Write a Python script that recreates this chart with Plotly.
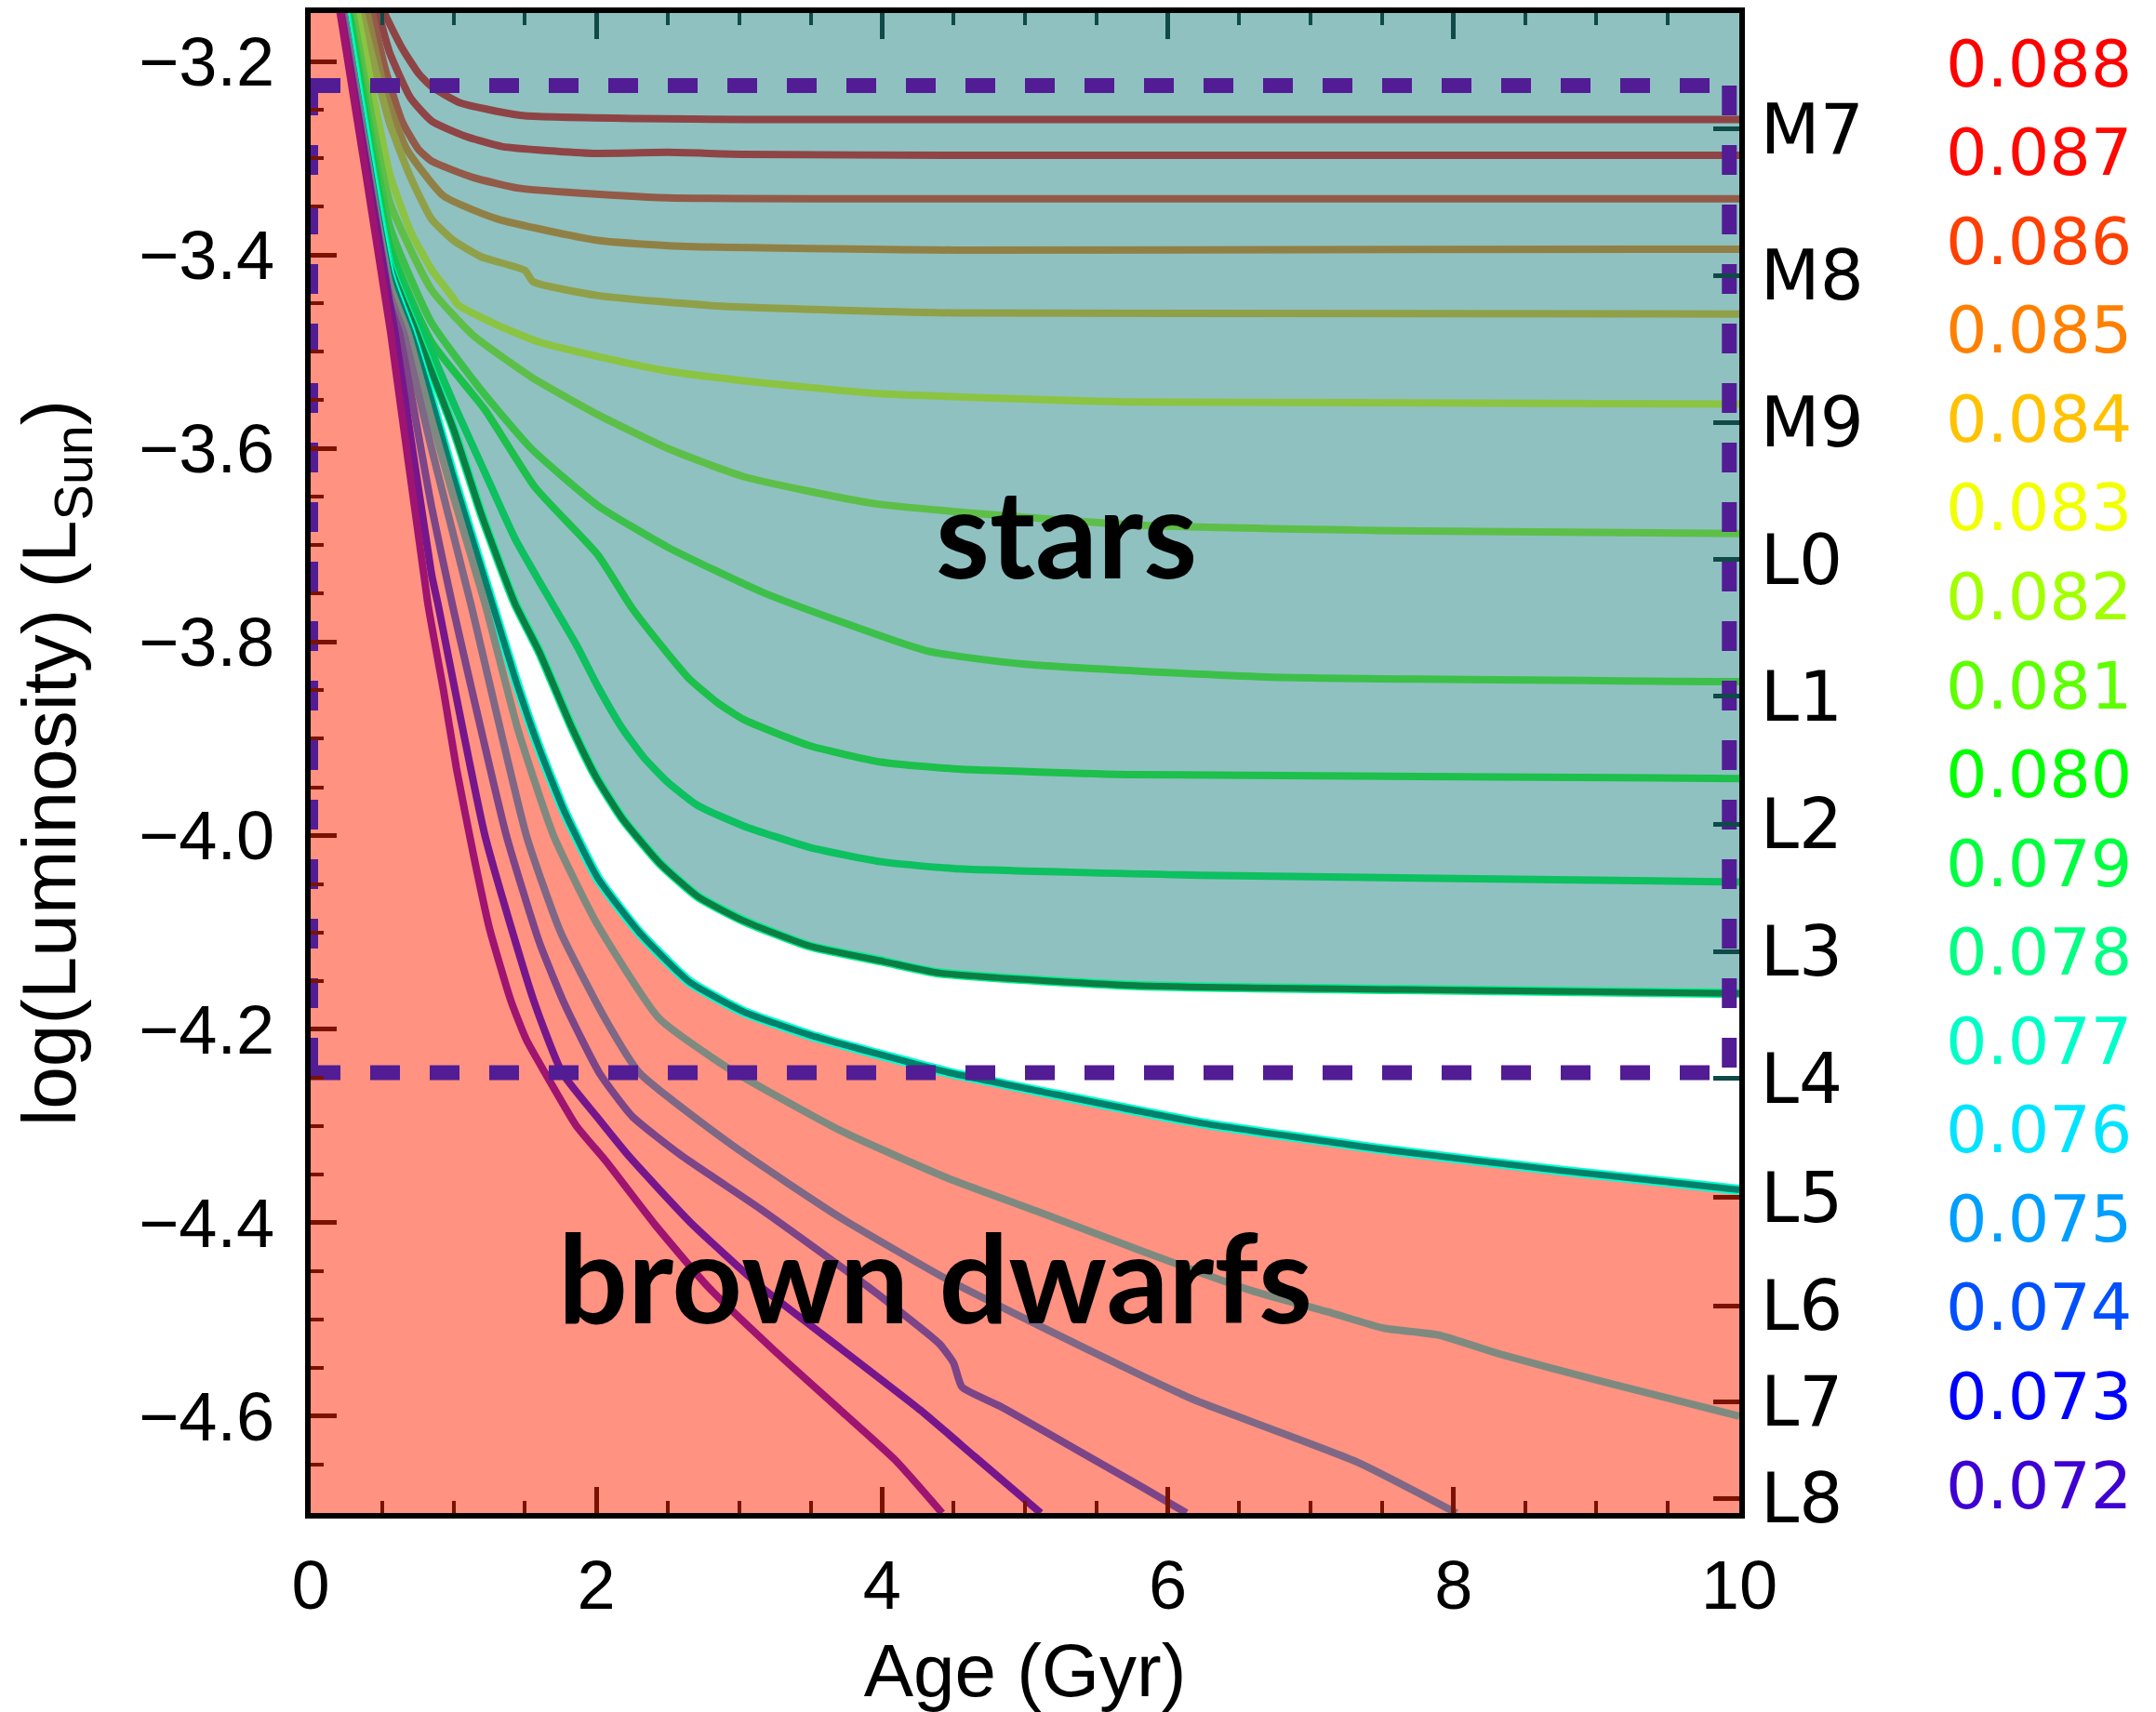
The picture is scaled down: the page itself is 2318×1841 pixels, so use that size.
import plotly.graph_objects as go

# ---------------- data ----------------
masses = [0.088, 0.087, 0.086, 0.085, 0.084, 0.083, 0.082, 0.081, 0.080,
          0.079, 0.078, 0.077, 0.076, 0.075, 0.074, 0.073, 0.072]
label_colors = ["#FF0000", "#FF0800", "#FF4000", "#FF8000", "#FFC200", "#F2FF00",
                "#A2FF00", "#5EFF00", "#00FF00", "#00FF40", "#00FF82", "#00FFC8",
                "#00E4FF", "#009EFF", "#0050FF", "#0000FF", "#3E00D2"]
line_colors = ["#8E4444", "#8F4446", "#935A48", "#918045", "#8FA048", "#8BC443",
               "#5DBF48", "#3DC04A", "#1CC04A", "#0DC060", "#0B7D45", "#00806A",
               "#7E8A80", "#7E6886", "#7B4588", "#76168C", "#9E1470"]

age_088 = [0.47, 0.526, 0.643, 0.758, 0.846, 1.05, 1.485, 2.30, 3.03, 4.53, 10.0]
lum_088 = [-3.135, -3.153, -3.187, -3.213, -3.226, -3.243, -3.256, -3.259, -3.260, -3.260, -3.260]

age_087 = [0.43, 0.48, 0.553, 0.70, 0.85, 1.078, 1.34, 1.98, 2.50, 3.03, 4.53, 10.0]
lum_087 = [-3.13, -3.153, -3.191, -3.238, -3.262, -3.277, -3.288, -3.295, -3.294, -3.296, -3.297, -3.297]

age_086 = [0.39, 0.436, 0.526, 0.64, 0.75, 0.846, 1.137, 1.456, 1.776, 2.50, 4.53, 10.0]
lum_086 = [-3.12, -3.153, -3.21, -3.262, -3.29, -3.303, -3.320, -3.331, -3.335, -3.341, -3.342, -3.342]

age_085 = [0.35, 0.40, 0.526, 0.67, 0.93, 1.31, 2.01, 2.59, 4.53, 10.0]
lum_085 = [-3.12, -3.153, -3.234, -3.290, -3.339, -3.363, -3.385, -3.391, -3.395, -3.394]

age_084 = [0.31, 0.36, 0.553, 0.70, 0.846, 1.0, 1.195, 1.50, 1.556, 2.01, 2.88, 4.53, 10.0]
lum_084 = [-3.12, -3.153, -3.264, -3.32, -3.363, -3.385, -3.402, -3.416, -3.4275, -3.442, -3.453, -3.460, -3.461]

age_083 = [0.28, 0.33, 0.553, 0.70, 0.846, 0.99, 1.035, 1.3, 1.6, 2.01, 2.50, 3.03, 3.95, 5.77, 10.0]
lum_083 = [-3.12, -3.153, -3.316, -3.376, -3.415, -3.443, -3.452, -3.472, -3.49, -3.505, -3.52, -3.530, -3.543, -3.552, -3.554]

age_082 = [0.25, 0.30, 0.553, 0.846, 1.137, 1.543, 2.01, 2.50, 3.03, 3.95, 5.77, 7.60, 10.0]
lum_082 = [-3.11, -3.153, -3.345, -3.436, -3.483, -3.526, -3.565, -3.60, -3.629, -3.657, -3.679, -3.685, -3.688]

age_081 = [0.23, 0.28, 0.553, 0.846, 1.195, 1.543, 2.01, 2.50, 3.17, 4.31, 5.0, 6.69, 10.0]
lum_081 = [-3.11, -3.153, -3.37, -3.47, -3.54, -3.60, -3.659, -3.702, -3.749, -3.809, -3.823, -3.836, -3.841]

age_080 = [0.22, 0.27, 0.553, 0.846, 1.22, 1.57, 2.01, 2.25, 2.50, 2.65, 2.85, 3.03, 3.49, 3.99, 4.50, 5.77, 10.0]
lum_080 = [-3.11, -3.153, -3.39, -3.49, -3.56, -3.64, -3.71, -3.765, -3.812, -3.838, -3.863, -3.880, -3.907, -3.924, -3.931, -3.937, -3.941]

age_079 = [0.21, 0.26, 0.553, 0.846, 1.02, 1.22, 1.43, 1.69, 1.86, 2.01, 2.18, 2.33, 2.50, 2.71, 3.03, 3.49, 3.99, 4.50, 6.23, 10.0]
lum_079 = [-3.11, -3.153, -3.40, -3.50, -3.56, -3.625, -3.693, -3.76, -3.803, -3.846, -3.889, -3.919, -3.945, -3.969, -3.990, -4.012, -4.027, -4.034, -4.041, -4.048]

age_078 = [0.20, 0.25, 0.553, 0.74, 1.0, 1.20, 1.43, 1.60, 1.83, 2.00, 2.18, 2.44, 2.71, 3.03, 3.49, 4.01, 4.40, 5.77, 7.60, 10.0]
lum_078 = [-3.11, -3.153, -3.41, -3.48, -3.58, -3.67, -3.76, -3.810, -3.889, -3.940, -3.982, -4.028, -4.063, -4.088, -4.114, -4.130, -4.142, -4.155, -4.159, -4.163]

age_077 = [0.19, 0.24, 0.553, 0.70, 0.846, 1.0, 1.27, 1.43, 1.60, 1.776, 2.01, 2.30, 2.65, 3.03, 3.49, 4.08, 4.47, 5.13, 6.23, 7.60, 8.74, 10.0]
lum_077 = [-3.11, -3.153, -3.42, -3.48, -3.55, -3.63, -3.76, -3.837, -3.91, -3.975, -4.044, -4.10, -4.151, -4.182, -4.206, -4.230, -4.245, -4.265, -4.297, -4.326, -4.346, -4.366]

age_076 = [0.18, 0.235, 0.553, 0.68, 0.846, 1.0, 1.22, 1.45, 1.70, 2.0, 2.44, 2.93, 3.71, 4.46, 5.08, 5.83, 6.58, 7.14, 7.51, 7.89, 8.33, 9.01, 10.0]
lum_076 = [-3.11, -3.153, -3.43, -3.48, -3.57, -3.65, -3.76, -3.89, -4.00, -4.09, -4.189, -4.241, -4.305, -4.354, -4.388, -4.430, -4.470, -4.493, -4.509, -4.516, -4.536, -4.563, -4.600]

age_075 = [0.175, 0.23, 0.553, 0.65, 0.846, 1.12, 1.51, 1.75, 2.06, 2.30, 2.96, 3.71, 4.46, 5.08, 5.83, 6.20, 7.32, 8.02]
lum_075 = [-3.11, -3.153, -3.44, -3.48, -3.60, -3.76, -4.00, -4.10, -4.189, -4.245, -4.321, -4.395, -4.459, -4.505, -4.559, -4.584, -4.647, -4.70]

age_074 = [0.17, 0.22, 0.553, 0.62, 0.846, 0.99, 1.37, 1.60, 1.78, 2.02, 2.25, 2.59, 3.15, 3.90, 4.40, 4.50, 4.56, 4.83, 5.39, 5.83, 6.13]
lum_074 = [-3.11, -3.153, -3.45, -3.48, -3.66, -3.76, -4.00, -4.11, -4.175, -4.245, -4.29, -4.33, -4.386, -4.466, -4.525, -4.545, -4.570, -4.590, -4.637, -4.674, -4.70]

age_073 = [0.165, 0.215, 0.553, 0.59, 0.846, 0.89, 1.22, 1.56, 1.76, 2.0, 2.22, 2.66, 3.15, 3.71, 4.27, 4.65, 5.11]
lum_073 = [-3.11, -3.153, -3.45, -3.48, -3.73, -3.76, -4.00, -4.17, -4.245, -4.29, -4.33, -4.40, -4.466, -4.530, -4.594, -4.642, -4.70]

age_072 = [0.16, 0.21, 0.56, 0.82, 0.93, 1.02, 1.14, 1.25, 1.40, 1.51, 1.64, 1.86, 2.07, 2.41, 2.78, 3.23, 3.71, 4.09, 4.42]
lum_072 = [-3.11, -3.153, -3.48, -3.76, -3.85, -3.93, -4.02, -4.095, -4.17, -4.211, -4.245, -4.30, -4.337, -4.402, -4.466, -4.530, -4.594, -4.645, -4.70]

spt_labels = ["M7", "M8", "M9", "L0", "L1", "L2", "L3", "L4", "L5", "L6", "L7", "L8"]
spt_lum = [-3.270, -3.421, -3.573, -3.715, -3.856, -3.988, -4.120, -4.251, -4.374, -4.486, -4.585, -4.685]

box_age = [0.0, 9.93]
box_lum = [-3.225, -4.245]

x_range = [0, 10]
y_range = [-4.70, -3.15]

curve_ages = [age_088, age_087, age_086, age_085, age_084, age_083, age_082, age_081, age_080,
              age_079, age_078, age_077, age_076, age_075, age_074, age_073, age_072]
curve_lums = [lum_088, lum_087, lum_086, lum_085, lum_084, lum_083, lum_082, lum_081, lum_080,
              lum_079, lum_078, lum_077, lum_076, lum_075, lum_074, lum_073, lum_072]

# ---------------- style ----------------
TEAL = "#8FC1C1"
SALMON = "#FF9281"
DASH = "#521C94"
RED_TICK = "#7A1200"
TEAL_TICK = "#0F4A48"
AXFONT = "Liberation Sans, Arial, sans-serif"
WIDEFONT = "DejaVu Sans, Verdana, sans-serif"

W, H = 2318, 1841
L_M, R_M, T_M, B_M = 334, 448, 14, 214

fig = go.Figure()

# brown-dwarf region: below the 0.077 track
salmon_x = [x_range[0]] + age_077 + [x_range[1], x_range[0]]
salmon_y = [-3.0] + lum_077 + [-4.9, -4.9]
fig.add_trace(go.Scatter(x=salmon_x, y=salmon_y, fill="toself", fillcolor=SALMON,
                         mode="lines", line=dict(width=0), hoverinfo="skip", showlegend=False))
# star region: above the 0.078 track
teal_x = age_078 + [x_range[1], age_078[0]]
teal_y = lum_078 + [-3.0, -3.0]
fig.add_trace(go.Scatter(x=teal_x, y=teal_y, fill="toself", fillcolor=TEAL,
                         mode="lines", line=dict(width=0), hoverinfo="skip", showlegend=False))

# evolutionary tracks
for m, ax, ly, col in zip(masses, curve_ages, curve_lums, line_colors):
    if m == 0.077:
        fig.add_trace(go.Scatter(x=ax, y=ly, mode="lines", line=dict(color="#00FFD2", width=11, shape="spline", smoothing=0.5),
                                 hoverinfo="skip", showlegend=False))
    if m == 0.078:
        fig.add_trace(go.Scatter(x=ax, y=ly, mode="lines", line=dict(color="#00F08A", width=10, shape="spline", smoothing=0.5),
                                 hoverinfo="skip", showlegend=False))
    fig.add_trace(go.Scatter(x=ax, y=ly, mode="lines", name=f"{m:.3f}",
                             line=dict(color=col, width=8 if m not in (0.077, 0.078) else 7,
                                       shape="spline", smoothing=0.5),
                             showlegend=False))

# dashed box
dash_line = dict(color=DASH, width=16, dash="32px,32px")
fig.add_trace(go.Scatter(x=box_age, y=[box_lum[0], box_lum[0]], mode="lines", line=dash_line,
                         hoverinfo="skip", showlegend=False))
fig.add_trace(go.Scatter(x=box_age, y=[box_lum[1], box_lum[1]], mode="lines", line=dash_line,
                         hoverinfo="skip", showlegend=False))
fig.add_trace(go.Scatter(x=[box_age[0], box_age[0]], y=box_lum, mode="lines", line=dash_line,
                         hoverinfo="skip", showlegend=False, cliponaxis=False))
fig.add_trace(go.Scatter(x=[box_age[1], box_age[1]], y=box_lum, mode="lines", line=dash_line,
                         hoverinfo="skip", showlegend=False))

# helper empty traces so the extra axes get drawn
fig.add_trace(go.Scatter(x=[], y=[], xaxis="x2", yaxis="y", showlegend=False))
fig.add_trace(go.Scatter(x=[], y=[], xaxis="x", yaxis="y2", showlegend=False))
fig.add_trace(go.Scatter(x=[], y=[], xaxis="x", yaxis="y3", showlegend=False))

# region labels
fig.add_annotation(x=5.29, y=-3.685, xref="x", yref="y", text="<b>stars</b>", showarrow=False,
                   font=dict(family="Lato, Noto Sans, sans-serif", size=132, color="black"))
fig.add_annotation(x=4.37, y=-4.455, xref="x", yref="y", text="<b>brown dwarfs</b>", showarrow=False,
                   font=dict(family="Lato, Noto Sans, sans-serif", size=132, color="black"))

# mass labels on the right
plot_h = H - T_M - B_M
plot_w = W - L_M - R_M
for i, (m, c) in enumerate(zip(masses, label_colors)):
    yc = 68.7 + i * 95.55
    fig.add_annotation(x=(2294 - L_M) / plot_w, y=(H - B_M - yc) / plot_h, xref="paper", yref="paper",
                       text=f"{m:.3f}", showarrow=False, xanchor="right", yanchor="middle",
                       font=dict(family=WIDEFONT, size=70, color=c))

tick_font = dict(family=AXFONT, size=74, color="black")
fig.update_layout(
    width=W, height=H, margin=dict(l=L_M, r=R_M, t=T_M, b=B_M),
    paper_bgcolor="white", plot_bgcolor="white", showlegend=False,
    xaxis=dict(range=x_range, tickvals=[0, 2, 4, 6, 8, 10], ticks="inside", ticklen=28, tickwidth=5,
               tickcolor=RED_TICK, tickfont=tick_font, ticklabelstandoff=8,
               minor=dict(dtick=0.5, ticks="inside", ticklen=13, tickwidth=4, tickcolor=RED_TICK, showgrid=False),
               showline=True, linecolor="black", linewidth=6, showgrid=False, zeroline=False,
               title=dict(text="Age (Gyr)", font=dict(family=AXFONT, size=80, color="black"), standoff=26)),
    xaxis2=dict(range=x_range, overlaying="x", side="top", anchor="y", tickvals=[0, 2, 4, 6, 8, 10],
                ticks="inside", ticklen=28, tickwidth=5, tickcolor=TEAL_TICK, showticklabels=False,
                minor=dict(dtick=0.5, ticks="inside", ticklen=13, tickwidth=4, tickcolor=TEAL_TICK, showgrid=False),
                showline=True, linecolor="black", linewidth=6, showgrid=False, zeroline=False),
    yaxis=dict(range=y_range, dtick=0.2, tick0=0, tickformat=".1f", ticks="inside", ticklen=28, tickwidth=5,
               tickcolor=RED_TICK, tickfont=tick_font, ticklabelstandoff=18,
               minor=dict(dtick=0.05, ticks="inside", ticklen=14, tickwidth=4, tickcolor=RED_TICK, showgrid=False),
               showline=True, linecolor="black", linewidth=6, showgrid=False, zeroline=False,
               title=dict(text="log(Luminosity) (L<sub>Sun</sub>)", font=dict(family=AXFONT, size=82, color="black"),
                          standoff=42)),
    yaxis2=dict(range=y_range, overlaying="y", side="right", anchor="x", tickvals=spt_lum[:8],
                ticktext=spt_labels[:8], ticks="inside", ticklen=28, tickwidth=5, tickcolor=TEAL_TICK,
                tickfont=dict(family=WIDEFONT, size=74, color="black"), ticklabelstandoff=2,
                showline=True, linecolor="black", linewidth=6, showgrid=False, zeroline=False),
    yaxis3=dict(range=y_range, overlaying="y", side="right", anchor="x", tickvals=spt_lum[8:],
                ticktext=spt_labels[8:], ticks="inside", ticklen=28, tickwidth=5, tickcolor=RED_TICK,
                tickfont=dict(family=WIDEFONT, size=74, color="black"), ticklabelstandoff=22,
                showline=False, showgrid=False, zeroline=False),
)

fig.write_html("out.html")
